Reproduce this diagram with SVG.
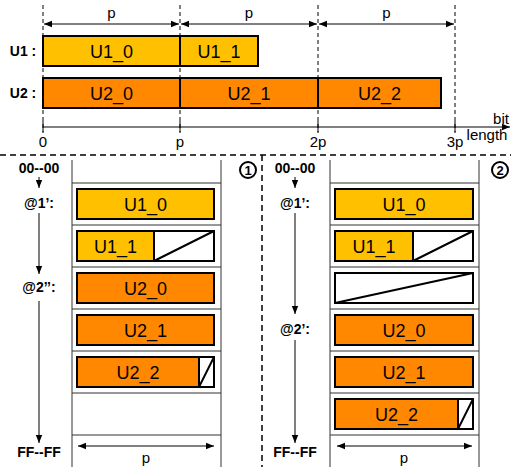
<svg xmlns="http://www.w3.org/2000/svg" width="511" height="467" viewBox="0 0 511 467">
<style>
text{font-family:"Liberation Sans",Arial,sans-serif;fill:#000}
.lbl{font-size:18px;text-anchor:middle}
.dim{font-size:15px;text-anchor:middle}
.b{font-size:14px;font-weight:bold;text-anchor:middle}
.y{fill:#FFC000;stroke:#000;stroke-width:2}
.o{fill:#FF8800;stroke:#000;stroke-width:2}
.w{fill:#fff;stroke:#000;stroke-width:2}
.dash{stroke:#000;stroke-width:1;stroke-dasharray:4,3;fill:none}
.dash2{stroke:#000;stroke-width:1.5;stroke-dasharray:6,4;fill:none}
.ln{stroke:#000;stroke-width:1;fill:none}
.col{stroke:#333;stroke-width:1;fill:none}
</style>
<defs>
<marker id="ah" viewBox="0 0 10 10" refX="10" refY="5" markerWidth="8" markerHeight="8" markerUnits="userSpaceOnUse" orient="auto-start-reverse">
<path d="M0,1 L10,5 L0,9 z" fill="#000"/>
</marker>
</defs>

<g id="top-grid">
<line class="dash" x1="43" y1="5" x2="43" y2="132"/>
<line class="dash" x1="180" y1="5" x2="180" y2="132"/>
<line class="dash" x1="318" y1="5" x2="318" y2="132"/>
<line class="dash" x1="455" y1="5" x2="455" y2="132"/>
</g>

<g id="connectors">
<line class="ln" x1="44" y1="24" x2="179" y2="24" marker-start="url(#ah)" marker-end="url(#ah)"/>
<line class="ln" x1="181" y1="24" x2="317" y2="24" marker-start="url(#ah)" marker-end="url(#ah)"/>
<line class="ln" x1="319" y1="24" x2="454" y2="24" marker-start="url(#ah)" marker-end="url(#ah)"/>
<line class="ln" x1="43" y1="127" x2="510" y2="127" marker-end="url(#ah)"/>
<line class="ln" x1="43" y1="121" x2="43" y2="133"/>
<line class="ln" x1="180" y1="121" x2="180" y2="133"/>
<line class="ln" x1="318" y1="121" x2="318" y2="133"/>
<line class="ln" x1="455" y1="121" x2="455" y2="133"/>
<line class="ln" x1="39" y1="177" x2="39" y2="188" marker-end="url(#ah)"/>
<line class="ln" x1="39" y1="213" x2="39" y2="274" marker-end="url(#ah)"/>
<line class="ln" x1="39" y1="301" x2="39" y2="443" marker-end="url(#ah)"/>
<line class="ln" x1="295" y1="177" x2="295" y2="188" marker-end="url(#ah)"/>
<line class="ln" x1="295" y1="213" x2="295" y2="314" marker-end="url(#ah)"/>
<line class="ln" x1="295" y1="340" x2="295" y2="443" marker-end="url(#ah)"/>
<line class="ln" x1="78" y1="446" x2="214" y2="446" marker-start="url(#ah)" marker-end="url(#ah)"/>
<line class="ln" x1="337" y1="446" x2="472" y2="446" marker-start="url(#ah)" marker-end="url(#ah)"/>
</g>

<g id="top-labels">
<text class="dim" x="111.5" y="18">p</text>
<text class="dim" x="249" y="18">p</text>
<text class="dim" x="386.5" y="18">p</text>
<text class="b" x="23" y="56">U1 :</text>
<text class="b" x="23" y="98">U2 :</text>
<text class="dim" x="43" y="147">0</text>
<text class="dim" x="180" y="147">p</text>
<text class="dim" x="318" y="147">2p</text>
<text class="dim" x="455" y="147">3p</text>
<text style="font-size:15px;text-anchor:middle" x="501" y="124">bit</text>
<text style="font-size:15px;text-anchor:middle" x="487" y="140">length</text>
</g>

<g id="U1_0_top"><rect class="y" x="43" y="36" width="137" height="30"/><text class="lbl" x="111.5" y="57.5">U1_0</text></g>
<g id="U1_1_top"><rect class="y" x="180" y="36" width="78" height="30"/><text class="lbl" x="219" y="57.5">U1_1</text></g>
<g id="U2_0_top"><rect class="o" x="43" y="78" width="137" height="30"/><text class="lbl" x="111.5" y="99.5">U2_0</text></g>
<g id="U2_1_top"><rect class="o" x="180" y="78" width="138" height="30"/><text class="lbl" x="249" y="99.5">U2_1</text></g>
<g id="U2_2_top"><rect class="o" x="318" y="78" width="123" height="30"/><text class="lbl" x="379.5" y="99.5">U2_2</text></g>

<g id="separators">
<line class="dash2" x1="0" y1="155" x2="511" y2="155"/>
<line class="dash2" x1="262" y1="155" x2="262" y2="467"/>
</g>

<g id="panel1">
<line class="col" x1="72" y1="160" x2="72" y2="467"/>
<line class="col" x1="221" y1="160" x2="221" y2="467"/>
<line class="col" x1="72" y1="183" x2="221" y2="183"/>
<line class="col" x1="72" y1="225" x2="221" y2="225"/>
<line class="col" x1="72" y1="267" x2="221" y2="267"/>
<line class="col" x1="72" y1="309" x2="221" y2="309"/>
<line class="col" x1="72" y1="351" x2="221" y2="351"/>
<line class="col" x1="72" y1="393" x2="221" y2="393"/>
<line class="col" x1="72" y1="435" x2="221" y2="435"/>
<text class="b" x="39" y="173">00--00</text>
<text class="b" x="39" y="208">@1’:</text>
<text class="b" x="39" y="292">@2’’:</text>
<text class="b" x="39" y="457">FF--FF</text>
<text class="dim" x="146" y="463">p</text>
<circle cx="248" cy="170" r="8" fill="#fff" stroke="#000" stroke-width="2"/>
<text x="248" y="175" style="font-size:13px;font-weight:bold;text-anchor:middle">1</text>
</g>

<g id="p1_U1_0"><rect class="y" x="77" y="189" width="137" height="30"/><text class="lbl" x="145.5" y="210.5">U1_0</text></g>
<g id="p1_U1_1"><rect class="w" x="154" y="231" width="60" height="30"/><line x1="154" y1="261" x2="214" y2="231" stroke="#000" stroke-width="2"/><rect class="y" x="77" y="231" width="77" height="30"/><text class="lbl" x="115.5" y="252.5">U1_1</text></g>
<g id="p1_U2_0"><rect class="o" x="77" y="273" width="137" height="30"/><text class="lbl" x="145.5" y="294.5">U2_0</text></g>
<g id="p1_U2_1"><rect class="o" x="77" y="315" width="137" height="30"/><text class="lbl" x="145.5" y="336.5">U2_1</text></g>
<g id="p1_U2_2"><rect class="w" x="199" y="357" width="15" height="30"/><line x1="199" y1="387" x2="214" y2="357" stroke="#000" stroke-width="2"/><rect class="o" x="77" y="357" width="122" height="30"/><text class="lbl" x="138" y="378.5">U2_2</text></g>

<g id="panel2">
<line class="col" x1="330" y1="160" x2="330" y2="467"/>
<line class="col" x1="479" y1="160" x2="479" y2="467"/>
<line class="col" x1="330" y1="183" x2="479" y2="183"/>
<line class="col" x1="330" y1="225" x2="479" y2="225"/>
<line class="col" x1="330" y1="267" x2="479" y2="267"/>
<line class="col" x1="330" y1="309" x2="479" y2="309"/>
<line class="col" x1="330" y1="351" x2="479" y2="351"/>
<line class="col" x1="330" y1="393" x2="479" y2="393"/>
<line class="col" x1="330" y1="435" x2="479" y2="435"/>
<text class="b" x="295" y="173">00--00</text>
<text class="b" x="295" y="208">@1’:</text>
<text class="b" x="295" y="334">@2’:</text>
<text class="b" x="295" y="457">FF--FF</text>
<text class="dim" x="404" y="463">p</text>
<circle cx="500" cy="170" r="8" fill="#fff" stroke="#000" stroke-width="2"/>
<text x="500" y="175" style="font-size:13px;font-weight:bold;text-anchor:middle">2</text>
</g>

<g id="p2_U1_0"><rect class="y" x="335" y="189" width="138" height="30"/><text class="lbl" x="404" y="210.5">U1_0</text></g>
<g id="p2_U1_1"><rect class="w" x="413" y="231" width="60" height="30"/><line x1="413" y1="261" x2="473" y2="231" stroke="#000" stroke-width="2"/><rect class="y" x="335" y="231" width="78" height="30"/><text class="lbl" x="374" y="252.5">U1_1</text></g>
<g id="p2_empty"><rect class="w" x="335" y="273" width="138" height="30"/><line x1="335" y1="303" x2="473" y2="273" stroke="#000" stroke-width="2"/></g>
<g id="p2_U2_0"><rect class="o" x="335" y="315" width="138" height="30"/><text class="lbl" x="404" y="336.5">U2_0</text></g>
<g id="p2_U2_1"><rect class="o" x="335" y="357" width="138" height="30"/><text class="lbl" x="404" y="378.5">U2_1</text></g>
<g id="p2_U2_2"><rect class="w" x="458" y="399" width="15" height="30"/><line x1="458" y1="429" x2="473" y2="399" stroke="#000" stroke-width="2"/><rect class="o" x="335" y="399" width="123" height="30"/><text class="lbl" x="396.5" y="420.5">U2_2</text></g>
</svg>
